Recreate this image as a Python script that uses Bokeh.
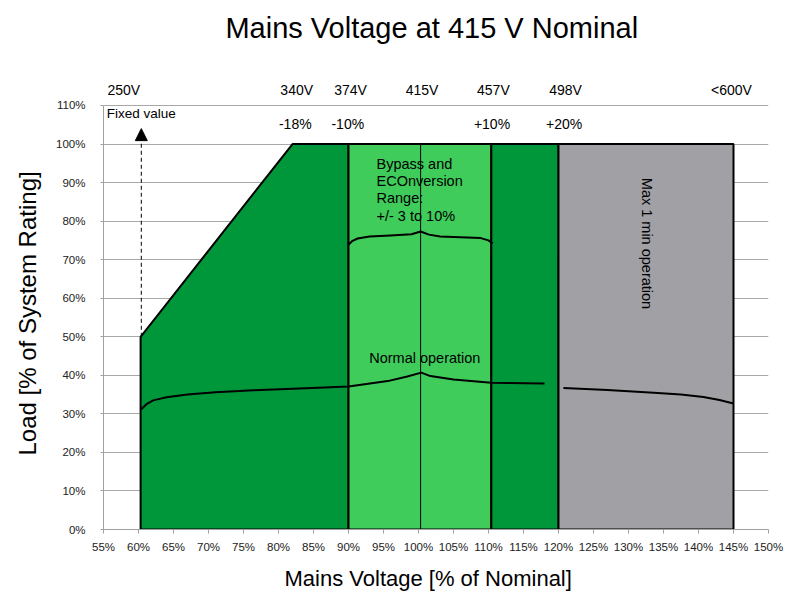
import numpy as np
from bokeh.plotting import figure
from bokeh.models import Range1d, FixedTicker, PrintfTickFormatter, Label, Arrow, NormalHead, Title
from bokeh.embed import file_html
from bokeh.resources import INLINE

# ---------------- data ----------------
x_ticks = list(range(55, 151, 5))
y_ticks = list(range(0, 111, 10))

# low-voltage operating region (% nominal, % load)
low_x = [60.3, 60.3, 82.0, 90.0, 90.0]
low_y = [0, 50, 100, 100, 0]

# bands: bypass range, upper normal, max 1 min
band_left = [90.0, 110.4, 120.0]
band_right = [110.4, 120.0, 145.0]
band_top = [100, 100, 100]
band_colors = ["#3fcc5b", "#00973a", "#a1a1a5"]

nominal_x = 100.3

# "Normal operation" brace
normal1_x = [60.4, 61.2, 62.1, 64.0, 67.0, 71.0, 76.4, 83.0, 90.0, 95.6, 98.4, 100.4, 101.7, 105.0, 110.4, 118.0]
normal1_y = [31.2, 32.6, 33.5, 34.3, 35.0, 35.6, 36.1, 36.6, 37.1, 38.5, 39.7, 40.7, 39.8, 38.9, 38.1, 37.9]
normal2_x = [120.7, 127.0, 133.6, 137.5, 140.7, 143.0, 145.0]
normal2_y = [36.7, 36.2, 35.5, 35.0, 34.4, 33.6, 32.7]

# bypass brace
bypass_x = [89.9, 90.5, 91.3, 93.0, 96.0, 99.0, 100.3, 101.5, 103.1, 106.0, 108.9, 110.0, 110.6]
bypass_y = [73.7, 74.8, 75.5, 76.0, 76.3, 76.6, 77.3, 76.5, 76.0, 75.8, 75.6, 75.0, 74.2]

# fixed value arrow
fixed_x = 60.4
fixed_y0 = 50
fixed_y1 = 104

volt_labels = ["250V", "340V", "374V", "415V", "457V", "498V", "<600V"]
volt_pos = [57.9, 82.6, 90.3, 100.5, 110.7, 121.0, 144.7]
pct_labels = ["-18%", "-10%", "+10%", "+20%"]
pct_pos = [82.4, 89.9, 110.5, 120.8]

bypass_lines = ["Bypass and", "ECOnversion", "Range:", "+/- 3 to 10%"]

FONT = "Liberation Sans"

# ---------------- figure ----------------
# y range extends above 110 % so the header texts sit inside the plot frame
p = figure(width=793, height=603, output_backend="svg", toolbar_location=None,
           x_range=Range1d(55, 150), y_range=Range1d(0, 137.24),
           min_border_left=103, min_border_right=25, min_border_top=0, min_border_bottom=74)
p.outline_line_color = None
p.background_fill_color = "white"
p.border_fill_color = "white"

p.xgrid.visible = False
p.ygrid.grid_line_color = "#a8a8a8"
p.ygrid.grid_line_width = 1

p.xaxis.ticker = FixedTicker(ticks=x_ticks)
p.yaxis.ticker = FixedTicker(ticks=y_ticks)
p.yaxis.bounds = (0, 110)
p.xaxis.formatter = PrintfTickFormatter(format="%d%%")
p.yaxis.formatter = PrintfTickFormatter(format="%d%%")
for ax in (p.xaxis, p.yaxis):
    ax.axis_line_color = "#a0a0a0"
    ax.major_tick_line_color = "#a0a0a0"
    ax.minor_tick_line_color = None
    ax.major_tick_in = 0
    ax.major_label_text_font = FONT
    ax.major_label_text_font_size = "11.5px"
    ax.major_label_text_color = "#222222"
p.xaxis.major_tick_out = 4
p.xaxis.major_label_standoff = 7
p.yaxis.major_tick_out = 3
p.yaxis.major_label_standoff = 15

# axis titles
x_title = Title(text="Mains Voltage [% of Nominal]", align="left", offset=181,
                text_font=FONT, text_font_size="22px", text_font_style="normal",
                text_color="black", standoff=16)
y_title = Title(text="Load [% of System Rating]", align="left", offset=74,
                vertical_align="top",
                text_font=FONT, text_font_size="24px", text_font_style="normal",
                text_color="black", standoff=21)
p.add_layout(x_title, "below")
p.add_layout(y_title, "left")

# regions
p.patch(low_x, low_y, fill_color="#00973a", line_color="black", line_width=2)
p.quad(left=band_left, right=band_right, bottom=0, top=band_top,
       fill_color=band_colors, line_color="black", line_width=2)
p.segment(x0=[nominal_x], y0=[0], x1=[nominal_x], y1=[100], line_color="black", line_width=1)

# braces
p.line(normal1_x, normal1_y, line_color="black", line_width=2)
p.line(normal2_x, normal2_y, line_color="black", line_width=2)
p.line(bypass_x, bypass_y, line_color="black", line_width=2)

# arrow
p.add_layout(Arrow(end=NormalHead(size=12, fill_color="black", line_color="black"),
                   x_start=fixed_x, y_start=fixed_y0, x_end=fixed_x, y_end=fixed_y1,
                   line_color="black", line_width=1, line_dash="4 3"))

# texts
def lab(x, y, t, size, align="center", baseline="middle", angle=0.0, color="black"):
    p.add_layout(Label(x=x, y=y, text=t, text_font=FONT, text_font_size=size,
                       text_align=align, text_baseline=baseline, angle=angle,
                       text_color=color))

lab(101.9, 130.2, "Mains Voltage at 415 V Nominal", "29px")

for t, x in zip(volt_labels, volt_pos):
    lab(x, 114.1, t, "14px")
for t, x in zip(pct_labels, pct_pos):
    lab(x, 105.2, t, "14px")

lab(55.45, 107.9, "Fixed value", "13.5px", align="left")

for i, t in enumerate(bypass_lines):
    lab(94.0, 94.9 - i * 4.5, t, "14.5px", align="left")

lab(100.9, 44.6, "Normal operation", "14.5px")
lab(132.7, 74.2, "Max 1 min operation", "14.5px", angle=-np.pi / 2)

open("out.html", "w").write(file_html(p, INLINE))
